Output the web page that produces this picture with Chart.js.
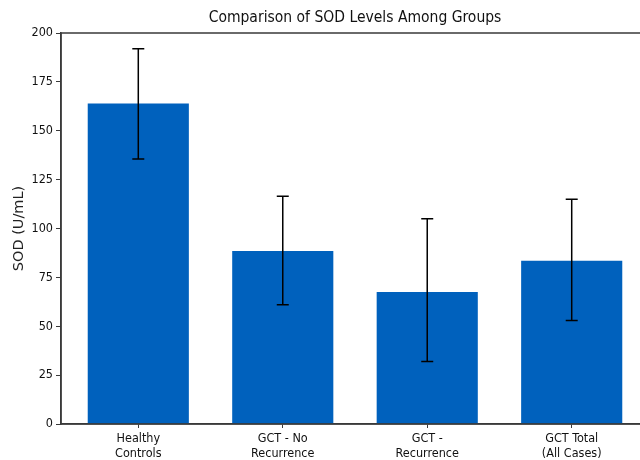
<!DOCTYPE html>
<html>
<head>
<meta charset="utf-8">
<script src="https://cdn.jsdelivr.net/npm/chart.js@4/dist/chart.umd.min.js"></script>
<style>
  html, body { margin: 0; padding: 0; background: #fff; overflow: hidden; width: 640px; height: 460px; }
  #wrap { position: absolute; left: 0; top: 0; width: 660px; height: 460px; }
</style>
</head>
<body>
<div id="wrap"><canvas id="sod" width="660" height="460"></canvas></div>
<script>
// data
const groups = [["Healthy", "Controls"], ["GCT - No", "Recurrence"], ["GCT -", "Recurrence"], ["GCT Total", "(All Cases)"]];
const sodMean = [164, 88.5, 67.5, 83.5];
const errLow = [135.5, 61, 32, 53];
const errHigh = [192, 116.5, 105, 115];
const yTicks = [0, 25, 50, 75, 100, 125, 150, 175, 200];

const FONT = "'DejaVu Sans Condensed', 'Liberation Sans Narrow', 'Liberation Sans', sans-serif";
const AXIS_COLOR = "#3a3a3a";

// error bars + top/right spines + title (centred over the axes like matplotlib)
const extras = {
  id: "extras",
  afterDatasetsDraw(chart) {
    const { ctx, scales: { x, y }, chartArea } = chart;
    ctx.save();
    ctx.strokeStyle = "#000";
    ctx.lineWidth = 1.5;
    errLow.forEach((lo, i) => {
      const px = x.getPixelForValue(i);
      const top = y.getPixelForValue(errHigh[i]);
      const bot = y.getPixelForValue(lo);
      ctx.beginPath();
      ctx.moveTo(px, top); ctx.lineTo(px, bot);
      ctx.moveTo(px - 6, top); ctx.lineTo(px + 6, top);
      ctx.moveTo(px - 6, bot); ctx.lineTo(px + 6, bot);
      ctx.stroke();
    });
    ctx.strokeStyle = AXIS_COLOR;
    ctx.lineWidth = 1.5;
    ctx.strokeRect(chartArea.left, chartArea.top, chartArea.right - chartArea.left, chartArea.bottom - chartArea.top);

    ctx.fillStyle = "#111";
    ctx.font = "15.5px " + FONT;
    ctx.textAlign = "center";
    ctx.textBaseline = "middle";
    ctx.fillText("Comparison of SOD Levels Among Groups", (chartArea.left + chartArea.right) / 2, 18);
    ctx.restore();
  }
};

new Chart(document.getElementById("sod"), {
  type: "bar",
  data: {
    datasets: [{
      label: "SOD",
      data: sodMean.map((v, i) => ({ x: i, y: v })),
      backgroundColor: "#0061bd",
      borderWidth: 0,
      barPercentage: 0.7,
      categoryPercentage: 1.0,
    }],
  },
  options: {
    responsive: false,
    animation: false,
    layout: { padding: { top: 33, right: 11, left: 0, bottom: 0 } },
    plugins: {
      legend: { display: false },
      tooltip: { enabled: false },
      title: { display: false },
    },
    scales: {
      x: {
        type: "linear",
        min: -0.535,
        max: 3.535,
        offset: false,
        afterBuildTicks: (scale) => { scale.ticks = groups.map((_, i) => ({ value: i })); },
        afterFit: (scale) => { scale.height = 36; },
        grid: { display: true, offset: false, drawOnChartArea: false, drawTicks: true, tickLength: 4, color: AXIS_COLOR, lineWidth: 1 },
        border: { display: true, color: AXIS_COLOR, width: 1.5 },
        ticks: {
          callback: (v) => groups[v],
          font: { family: FONT, size: 12.5, lineHeight: 1.2 },
          color: "#111",
          padding: 3,
          maxRotation: 0,
          autoSkip: false,
        },
      },
      y: {
        min: 0,
        max: 200,
        afterBuildTicks: (scale) => { scale.ticks = yTicks.map((v) => ({ value: v })); },
        afterFit: (scale) => { scale.width = 61; },
        grid: { display: true, drawOnChartArea: false, drawTicks: true, tickLength: 5, color: AXIS_COLOR, lineWidth: 1 },
        border: { display: true, color: AXIS_COLOR, width: 1.5 },
        ticks: {
          font: { family: FONT, size: 12.5 },
          color: "#111",
          padding: 3,
        },
        title: {
          display: true,
          text: "SOD (U/mL)",
          font: { family: "'DejaVu Sans', sans-serif", size: 14.5 },
          color: "#222",
          padding: { top: 11, bottom: 0 },
        },
      },
    },
  },
  plugins: [extras],
});
</script>
</body>
</html>
